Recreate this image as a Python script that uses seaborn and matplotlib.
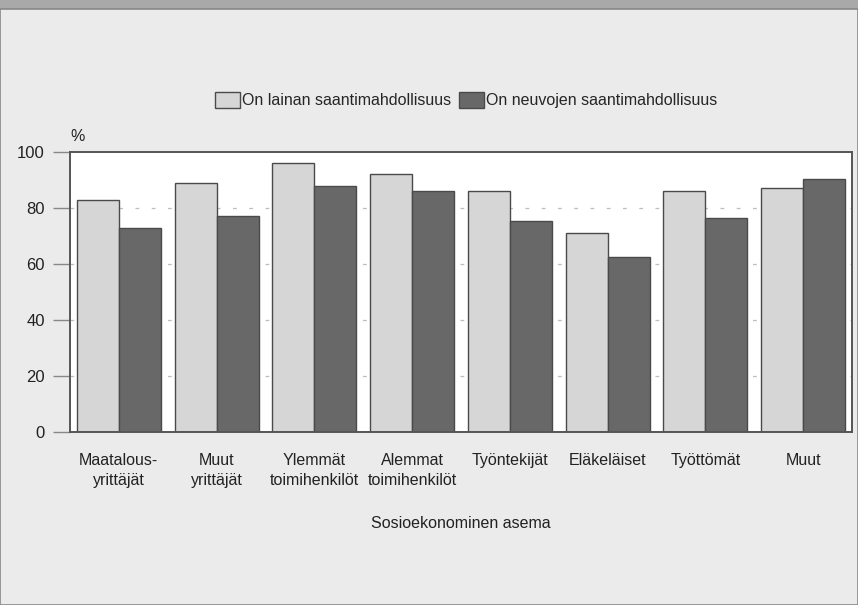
import pandas as pd
import matplotlib.pyplot as plt
import matplotlib.patches as mpatches
import seaborn as sns

# values (%)
groups = ["Maatalous-\nyrittäjät", "Muut\nyrittäjät", "Ylemmät\ntoimihenkilöt",
          "Alemmat\ntoimihenkilöt", "Työntekijät", "Eläkeläiset", "Työttömät", "Muut"]
laina = [83, 89, 96, 92, 86, 71, 86, 87]
neuvot = [73, 77, 88, 86, 75.5, 62.5, 76.5, 90.5]
series = ["On lainan saantimahdollisuus", "On neuvojen saantimahdollisuus"]

df = pd.DataFrame({
    "group": groups * 2,
    "value": laina + neuvot,
    "series": [series[0]] * len(groups) + [series[1]] * len(groups),
})

sns.set_style("white")
plt.rcParams["font.family"] = ["Liberation Sans", "DejaVu Sans"]

fig = plt.figure(figsize=(8.58, 6.05), dpi=100)
fig.patch.set_facecolor("#ebebeb")
# darker band at the top and a frame around the figure
fig.patches.append(mpatches.Rectangle((0, 1 - 9 / 605), 1, 9 / 605, transform=fig.transFigure,
                                      facecolor="#a9a9a9", edgecolor="none"))
fig.patches.append(mpatches.Rectangle((0, 0), 1, 1 - 9 / 605, transform=fig.transFigure,
                                      facecolor="none", edgecolor="#888888", linewidth=1.2))

ax = fig.add_axes([70 / 858, 173 / 605, 782 / 858, 280 / 605])
ax.set_facecolor("white")

pal = {series[0]: "#d6d6d6", series[1]: "#686868"}
sns.barplot(data=df, x="group", y="value", hue="series", palette=pal, ax=ax,
            width=0.86, gap=0, edgecolor="#4a4a4a", linewidth=1.0, saturation=1,
            legend=False)

ax.set_ylim(0, 100)
ax.set_xlim(-0.5, len(groups) - 0.5)
ax.set_yticks([0, 20, 40, 60, 80, 100])
for y in [20, 40, 60, 80]:
    ax.axhline(y, color="#bdbdbd", linewidth=0.9, linestyle=(0, (3, 10)), zorder=0)

for s in ax.spines.values():
    s.set_color("#555555")
    s.set_linewidth(1.4)

ax.tick_params(axis="y", length=12, width=1.0, color="#888888", labelsize=12,
               pad=6, labelcolor="#222222", left=True)
ax.tick_params(axis="x", length=0, labelsize=11.5, pad=15, labelcolor="#222222")
for lbl in ax.get_xticklabels():
    lbl.set_linespacing(1.45)
ax.set_xlabel("Sosioekonominen asema", fontsize=11.5, color="#222222", labelpad=20)
ax.set_ylabel("")
ax.text(0, 1.03, "%", transform=ax.transAxes, ha="left", va="bottom",
        fontsize=11.5, color="#222222")

handles = [mpatches.Patch(facecolor=pal[s], edgecolor="#4a4a4a", linewidth=1.0) for s in series]
fig.legend(handles, series, loc="center", bbox_to_anchor=(466 / 858, 1 - 100 / 605),
           ncol=2, frameon=False, fontsize=11.5, handlelength=1.6, handleheight=1.2,
           handletextpad=0.1, columnspacing=0.5)

fig.savefig("out.png", dpi=100, facecolor=fig.get_facecolor())
